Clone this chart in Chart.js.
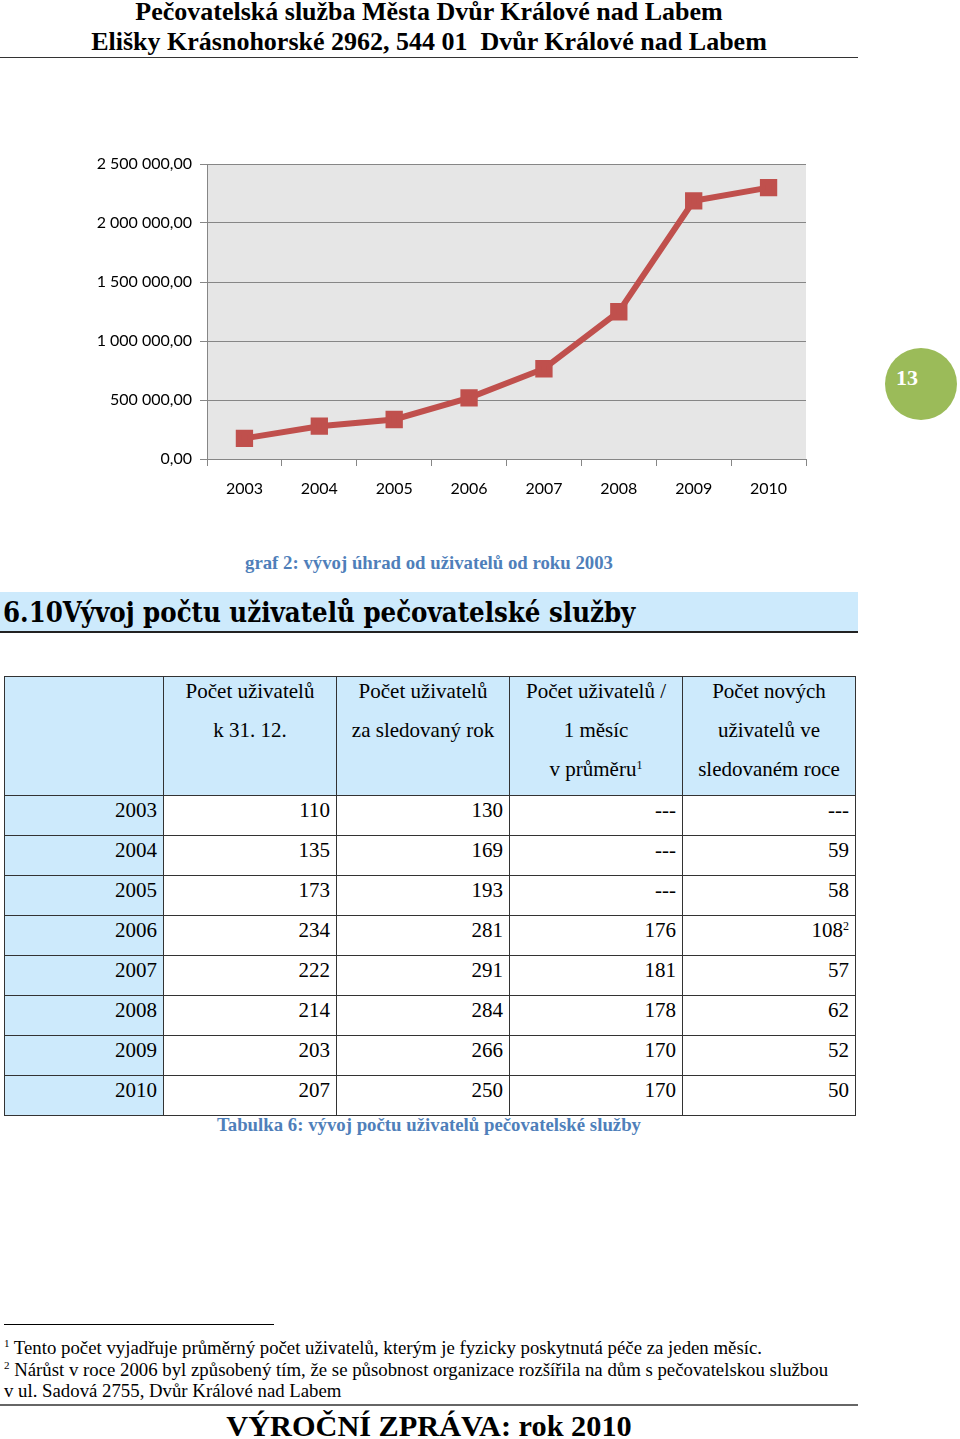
<!DOCTYPE html>
<html lang="cs">
<head>
<meta charset="utf-8">
<script src="https://cdn.jsdelivr.net/npm/chart.js@4/dist/chart.umd.min.js"></script>
<style>
  html, body { margin: 0; padding: 0; background: #fff; }
  body { width: 960px; height: 1439px; position: relative; overflow: hidden; font-family: "Liberation Serif", "Times New Roman", serif; color: #000; }
  .hdr { position: absolute; left: 0; width: 858px; text-align: center; font-weight: bold; font-size: 26px; line-height: 30px; }
  .hline { position: absolute; left: 0; width: 858px; height: 0; border-top: 1.5px solid #333; }
  #chartBox { position: absolute; left: 80px; top: 140px; width: 740px; height: 380px; }
  .cap { position: absolute; left: 0; width: 858px; text-align: center; font-weight: bold; font-size: 18.8px; color: #4f7fba; }
  .heading { position: absolute; left: 0; top: 592px; width: 858px; height: 41px; background: #cdeafc; border-bottom: 2px solid #222;
             font-family: "DejaVu Serif Condensed", "DejaVu Serif", serif; font-stretch: condensed; font-weight: bold; font-size: 27.3px; line-height: 41px; padding-left: 3px; box-sizing: border-box; }
  table { position: absolute; left: 4px; top: 676px; border-collapse: collapse; table-layout: fixed; width: 851px; font-size: 21px; }
  td { border: 1px solid #333; padding: 0 6px; height: 39px; text-align: right; }
  tbody td { vertical-align: top; line-height: 28px; }
  thead td { background: #cdeafc; text-align: center; vertical-align: top; line-height: 39px; padding: 0; height: 118px; }
  thead td div { position: relative; top: -5px; }
  sup { line-height: 0; vertical-align: 0; position: relative; top: -0.6em; }
  tbody td.yr { background: #cdeafc; }
  .foot { position: absolute; left: 4px; font-size: 18.8px; line-height: 21px; white-space: nowrap; }
  .circle { position: absolute; left: 885px; top: 348px; width: 72px; height: 72px; border-radius: 50%; background: #9bbb59; }
  .circle span { position: absolute; left: 11px; top: 17px; width: 26px; color: #fff; font-weight: bold; font-size: 22px; line-height: 26px; }
</style>
</head>
<body>
<div class="hdr" style="top:-3px">Pečovatelská služba Města Dvůr Králové nad Labem</div>
<div class="hdr" style="top:27px">Elišky Krásnohorské 2962, 544 01&nbsp; Dvůr Králové nad Labem</div>
<div class="hline" style="top:57px"></div>

<div id="chartBox"><canvas id="payChart"></canvas></div>
<div class="circle"><span>13</span></div>

<div class="cap" style="top:552px">graf 2: vývoj úhrad od uživatelů od roku 2003</div>
<div class="heading">6.10Vývoj počtu uživatelů pečovatelské služby</div>

<table id="usersTable"></table>
<div class="cap" style="top:1114px">Tabulka 6: vývoj počtu uživatelů pečovatelské služby</div>

<div style="position:absolute;left:4px;top:1324px;width:270px;border-top:1px solid #000"></div>
<div class="foot" style="top:1337px"><sup style="font-size:11px">1</sup> Tento počet vyjadřuje průměrný počet uživatelů, kterým je fyzicky poskytnutá péče za jeden měsíc.</div>
<div class="foot" style="top:1359px"><sup style="font-size:11px">2</sup> Nárůst v roce 2006 byl způsobený tím, že se působnost organizace rozšířila na dům s pečovatelskou službou</div>
<div class="foot" style="top:1380px">v ul. Sadová 2755, Dvůr Králové nad Labem</div>
<div class="hline" style="top:1404px;border-top:2px solid #666"></div>
<div class="hdr" style="top:1409px;font-size:30.3px;line-height:34px">VÝROČNÍ ZPRÁVA: rok 2010</div>

<script>
// graf 2 - úhrady od uživatelů
const years = ["2003", "2004", "2005", "2006", "2007", "2008", "2009", "2010"];
const payments = [175000, 278000, 335000, 518000, 765000, 1248000, 2188000, 2300000];

// tabulka 6
const tableHead = ["", "Počet uživatelů<br>k 31. 12.", "Počet uživatelů<br>za sledovaný rok", "Počet uživatelů /<br>1 měsíc<br>v průměru<sup style=\"font-size:12px\">1</sup>", "Počet nových<br>uživatelů ve<br>sledovaném roce"];
const usersEnd = ["110", "135", "173", "234", "222", "214", "203", "207"];
const usersYear = ["130", "169", "193", "281", "291", "284", "266", "250"];
const usersMonth = ["---", "---", "---", "176", "181", "178", "170", "170"];
const usersNew = ["---", "59", "58", "108<sup style=\"font-size:12px\">2</sup>", "57", "62", "52", "50"];

function czNumber(v) {
    const parts = v.toFixed(2).split(".");
    return parts[0].replace(/\B(?=(\d{3})+(?!\d))/g, " ") + "," + parts[1];
}

function buildTable() {
    const widths = [159, 173, 173, 173, 173];
    let html = "<colgroup>" + widths.map(w => `<col style="width:${w}px">`).join("") + "</colgroup>";
    html += "<thead><tr>";
    tableHead.forEach(h => { html += `<td><div>${h}</div></td>`; });
    html += "</tr></thead><tbody>";
    years.forEach((y, i) => {
        html += `<tr><td class="yr">${y}</td><td>${usersEnd[i]}</td><td>${usersYear[i]}</td><td>${usersMonth[i]}</td><td>${usersNew[i]}</td></tr>`;
    });
    html += "</tbody>";
    document.getElementById("usersTable").innerHTML = html;
}

const plotBg = {
    id: "plotBg",
    beforeDraw(chart) {
        const { ctx, chartArea: a } = chart;
        ctx.save();
        ctx.fillStyle = "#e6e6e6";
        ctx.fillRect(a.left, a.top, a.right - a.left, a.bottom - a.top);
        ctx.restore();
    }
};

function renderChart() {
    const ctx = document.getElementById("payChart").getContext("2d");
    new Chart(ctx, {
        type: "line",
        data: {
            labels: years,
            datasets: [{
                data: payments,
                borderColor: "#c0504d",
                backgroundColor: "#c0504d",
                borderWidth: 6,
                pointStyle: "rect",
                pointRadius: 8,
                pointHoverRadius: 8,
                tension: 0
            }]
        },
        options: {
            responsive: true,
            maintainAspectRatio: false,
            animation: false,
            layout: { padding: { top: 24, right: 13, bottom: 0, left: 0 } },
            plugins: { legend: { display: false }, tooltip: { enabled: false } },
            scales: {
                x: {
                    offset: true,
                    grid: { offset: true, drawOnChartArea: false, color: "#868686", tickLength: 7 },
                    border: { color: "#868686" },
                    ticks: { color: "#000", font: { family: "Lato", size: 16 }, padding: 13 },
                    afterFit(s) { s.height = 61; }
                },
                y: {
                    min: 0,
                    max: 2500000,
                    ticks: { stepSize: 500000, color: "#000", font: { family: "Lato", size: 16 }, padding: 8, callback: v => czNumber(v) },
                    grid: { color: "#868686", tickLength: 7 },
                    border: { color: "#868686" },
                    afterFit(s) { s.width = 127; }
                }
            }
        },
        plugins: [plotBg]
    });
}

document.addEventListener("DOMContentLoaded", () => {
    buildTable();
    renderChart();
});
</script>
</body>
</html>
